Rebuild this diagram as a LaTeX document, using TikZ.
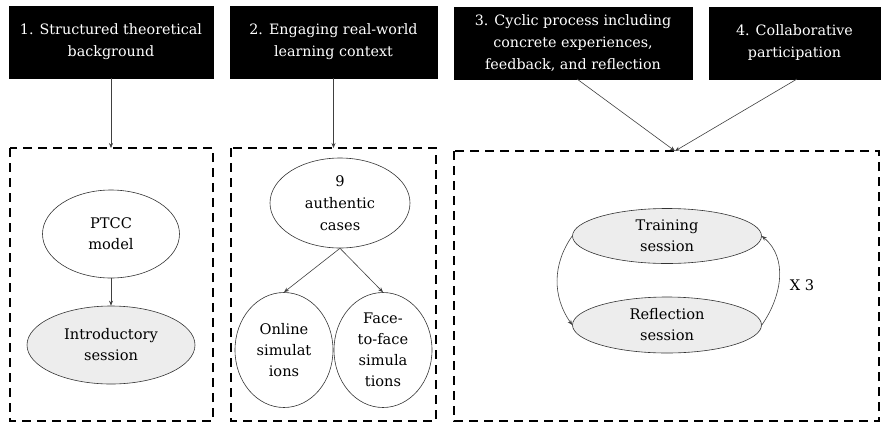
\documentclass[tikz,border=0pt]{standalone}
\usepackage{fontspec}
\setmainfont{DejaVu Serif}
\usetikzlibrary{shapes.geometric,arrows.meta}
\tikzset{
  hdr/.style={draw=black,fill=black,text=white,align=center,inner sep=0pt,minimum height=72pt,font=\fontsize{14.3}{22}\selectfont},
  dbox/.style={draw=black,line width=1.8pt,dash pattern=on 9pt off 6pt},
  ell/.style={draw=black!80,ellipse,inner sep=0pt,align=center,line width=0.6pt,font=\fontsize{14.6}{21}\selectfont},
  gell/.style={ell,fill=black!7},
  arr/.style={draw=black!75,line width=0.6pt,-{Stealth[length=5pt,width=4pt]}}
}
\begin{document}
\begin{tikzpicture}[x=1pt,y=-1pt]
\useasboundingbox (0,0) rectangle (884,424);
% headers
\node[hdr,minimum width=204pt] (h1) at (111,42) {1. Structured theoretical\\background};
\node[hdr,minimum width=207pt] (h2) at (333.5,42) {2. Engaging real-world\\learning context};
\node[hdr,minimum width=238pt] (h3) at (573,43) {3. Cyclic process including\\concrete experiences,\\feedback, and reflection};
\node[hdr,minimum width=171pt] (h4) at (794.5,43) {4. Collaborative\\participation};
% dashed boxes
\draw[dbox] (10,148) rectangle (213,421);
\draw[dbox] (231,148) rectangle (436,421);
\draw[dbox] (454,151) rectangle (879,421);
\coordinate (d1) at (111,148);
\coordinate (d2) at (333.5,148);
\coordinate (d3) at (675,151);
% panel 1
\node[ell,minimum width=137pt,minimum height=88pt] (ptcc) at (111,234) {PTCC\\model};
\node[gell,minimum width=168pt,minimum height=78pt] (intro) at (111,345) {Introductory\\session};
% panel 2
\node[ell,minimum width=140pt,minimum height=90pt,font=\fontsize{14.6}{22}\selectfont] (cases) at (340,203) {9\\authentic\\cases};
\node[ell,minimum width=98pt,minimum height=115pt] (online) at (284,350) {Online\\simulat\\ions};
\node[ell,minimum width=98pt,minimum height=115pt] (f2f) at (383,350) {Face-\\to-face\\simula\\tions};
% panel 3
\node[gell,minimum width=189pt,minimum height=55pt] (train) at (667,236) {Training\\session};
\node[gell,minimum width=189pt,minimum height=56pt] (refl) at (667,325) {Reflection\\session};
\node[font=\fontsize{14.6}{15}\selectfont] (x3) at (802,285) {X 3};
% connectors
\draw[arr] (h1) -- (d1);
\draw[arr] (h2) -- (d2);
\draw[arr] (577,79) -- (d3);
\draw[arr] (797,79) -- (d3);
\draw[arr] (ptcc) -- (intro);
\draw[arr] (cases.south) -- (online.north);
\draw[arr] (cases.south) -- (f2f.north);
\draw[arr] (train.west) to[out=235,in=125] (refl.west);
\draw[arr] (refl.east) to[out=55,in=-40] (train.east);
\end{tikzpicture}
\end{document}
